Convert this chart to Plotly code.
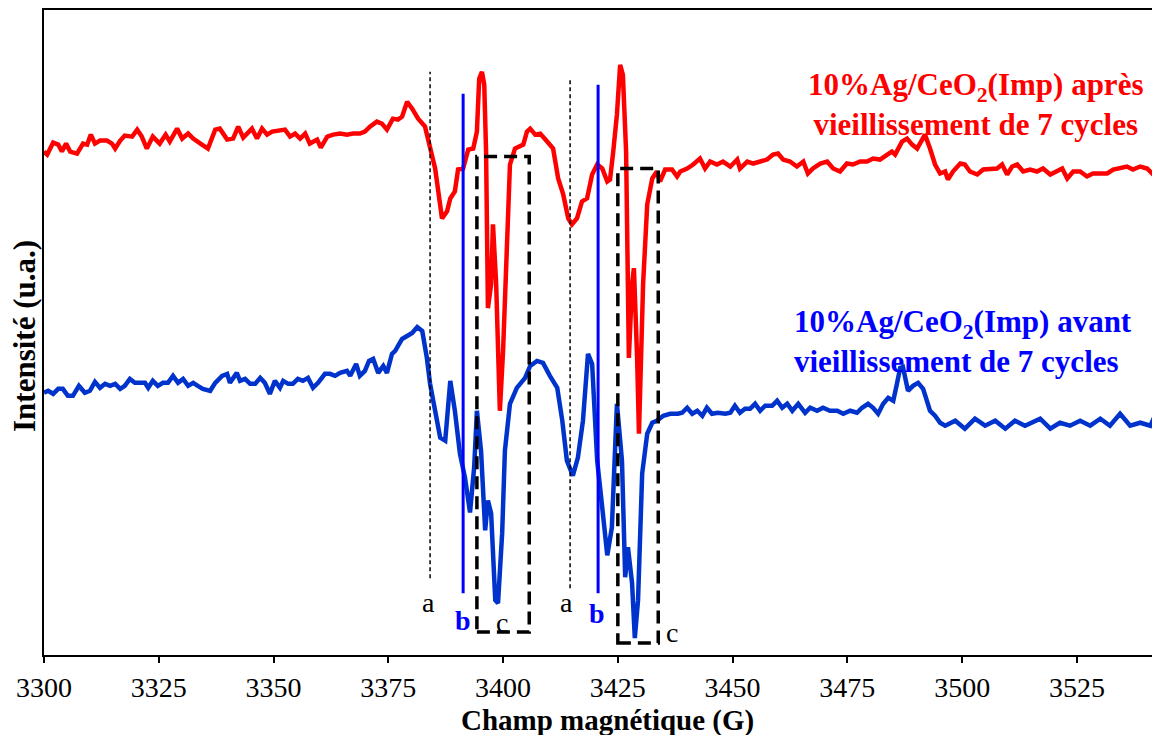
import plotly.graph_objects as go

# ---------------- data (magnetic field in G, intensity in arbitrary units) ----------------
field_apres = [3300.0, 3300.7, 3302.0, 3303.1, 3303.9, 3304.8, 3305.7, 3307.2, 3308.5, 3309.4, 3310.2, 3311.1,
               3312.2, 3313.7, 3314.8, 3315.5, 3316.6, 3317.6, 3319.2, 3320.3, 3321.3, 3322.4, 3323.7, 3325.2,
               3326.5, 3327.4, 3329.0, 3330.1, 3331.4, 3332.5, 3334.4, 3335.7, 3337.3, 3338.3, 3339.9, 3341.2,
               3342.3, 3343.4, 3345.3, 3346.4, 3347.5, 3348.6, 3349.7, 3350.8, 3352.5, 3353.6, 3354.7, 3355.8,
               3356.9, 3357.9, 3359.5, 3360.3, 3361.7, 3363.0, 3364.5, 3366.0, 3367.3, 3368.8, 3369.9, 3371.0,
               3372.5, 3373.6, 3374.7, 3376.0, 3377.1, 3378.0, 3379.1, 3380.2, 3381.5, 3383.0, 3384.1, 3385.2,
               3386.7, 3387.8, 3388.5, 3389.5, 3390.2, 3391.3, 3392.4, 3393.5, 3394.3, 3394.8, 3395.4, 3395.9,
               3396.3, 3396.7, 3397.4, 3397.8, 3398.5, 3399.3, 3400.0, 3400.9, 3401.5, 3402.6, 3404.4, 3405.2,
               3405.9, 3407.0, 3408.1, 3409.6, 3410.9, 3412.0, 3413.1, 3414.2, 3415.0, 3416.1, 3417.2, 3418.3,
               3419.4, 3420.5, 3421.6, 3422.7, 3423.3, 3424.0, 3424.8, 3425.5, 3426.1, 3426.8, 3427.4, 3428.1,
               3428.5, 3429.2, 3429.6, 3430.5, 3431.4, 3432.5, 3433.5, 3434.2, 3435.3, 3436.8, 3437.9, 3438.6,
               3440.1, 3441.4, 3442.9, 3444.0, 3445.1, 3446.6, 3447.9, 3449.5, 3451.0, 3451.6, 3453.2, 3454.5,
               3456.0, 3457.5, 3458.8, 3459.9, 3461.0, 3462.5, 3464.0, 3465.4, 3466.4, 3467.5, 3469.1, 3470.6,
               3471.9, 3473.4, 3474.9, 3476.2, 3477.8, 3479.3, 3480.6, 3482.1, 3483.7, 3484.7, 3485.4, 3486.9,
               3488.0, 3489.1, 3490.2, 3491.3, 3491.9, 3493.0, 3494.1, 3495.2, 3496.3, 3496.9, 3498.0, 3499.6,
               3500.6, 3501.7, 3503.3, 3504.6, 3506.1, 3507.6, 3508.7, 3509.8, 3510.9, 3512.0, 3513.3, 3514.8,
               3516.3, 3517.6, 3519.2, 3520.3, 3521.8, 3522.9, 3524.2, 3525.7, 3527.2, 3528.5, 3530.1, 3531.6,
               3532.9, 3534.4, 3535.9, 3537.2, 3538.8, 3540.3, 3541.6, 3543.1]
intensite_apres = [550, 547, 559, 557, 550, 558, 550, 548, 558, 557, 567, 558,
                   561, 561, 558, 553, 561, 566, 565, 572, 565, 553, 565, 558,
                   567, 560, 573, 563, 568, 563, 557, 553, 572, 573, 562, 563,
                   575, 564, 573, 563, 573, 567, 570, 571, 572, 565, 568, 563,
                   568, 558, 562, 554, 565, 567, 568, 567, 568, 568, 570, 575,
                   580, 578, 572, 583, 582, 585, 600, 593, 583, 575, 555, 533,
                   483, 490, 503, 510, 532, 533, 552, 553, 570, 623, 630, 617,
                   550, 393, 417, 477, 417, 290, 350, 483, 537, 553, 557, 570,
                   573, 567, 568, 560, 553, 523, 507, 483, 477, 483, 500, 503,
                   527, 537, 533, 520, 522, 550, 587, 637, 627, 550, 343, 417,
                   433, 343, 267, 417, 497, 523, 530, 520, 532, 532, 525, 530,
                   533, 537, 543, 533, 540, 537, 540, 535, 542, 533, 540, 538,
                   540, 542, 547, 548, 542, 540, 535, 540, 528, 533, 538, 540,
                   533, 530, 538, 537, 540, 540, 543, 542, 547, 550, 547, 560,
                   563, 557, 553, 562, 567, 553, 537, 528, 530, 522, 530, 538,
                   537, 530, 527, 532, 532, 533, 537, 527, 535, 537, 530, 532,
                   530, 533, 527, 530, 533, 523, 530, 530, 525, 528, 528, 528,
                   532, 533, 535, 532, 535, 533, 527, 532]

field_avant = [3300.0, 3300.9, 3302.0, 3303.1, 3304.1, 3305.2, 3306.3, 3307.6, 3308.9, 3310.0, 3311.1, 3312.2,
               3313.3, 3314.4, 3315.5, 3316.6, 3317.6, 3318.7, 3319.8, 3320.9, 3322.0, 3322.7, 3323.7, 3324.8,
               3325.9, 3327.0, 3328.1, 3329.2, 3330.3, 3331.4, 3332.5, 3333.5, 3334.6, 3336.2, 3337.3, 3338.8,
               3339.9, 3340.5, 3342.0, 3342.7, 3343.8, 3344.9, 3346.0, 3347.1, 3348.1, 3349.2, 3350.3, 3351.4,
               3352.1, 3353.2, 3354.2, 3355.3, 3356.4, 3357.5, 3358.6, 3359.7, 3361.2, 3362.3, 3363.4, 3364.5,
               3366.0, 3366.7, 3368.0, 3368.8, 3369.9, 3370.8, 3371.7, 3372.8, 3373.9, 3374.7, 3375.8, 3376.5,
               3378.0, 3379.1, 3380.2, 3381.3, 3382.4, 3383.4, 3384.1, 3385.2, 3386.3, 3387.4, 3388.5, 3389.5,
               3390.6, 3391.7, 3392.8, 3393.7, 3394.3, 3395.2, 3396.1, 3396.7, 3397.4, 3398.3, 3398.9, 3399.8,
               3400.4, 3401.5, 3403.0, 3404.8, 3405.9, 3407.4, 3408.7, 3410.2, 3411.8, 3412.9, 3413.9, 3415.2,
               3416.3, 3417.4, 3418.5, 3419.4, 3420.5, 3421.6, 3422.7, 3423.7, 3424.8, 3425.9, 3426.6, 3427.2,
               3428.1, 3428.7, 3429.4, 3430.3, 3431.4, 3432.5, 3433.5, 3434.9, 3436.4, 3438.1, 3439.0, 3440.1,
               3441.2, 3442.3, 3443.4, 3444.4, 3445.5, 3446.8, 3448.4, 3449.5, 3450.5, 3451.6, 3452.7, 3453.8,
               3454.9, 3456.0, 3457.1, 3458.6, 3459.7, 3460.8, 3461.9, 3463.0, 3464.3, 3465.8, 3466.9, 3468.4,
               3469.7, 3471.2, 3472.8, 3474.1, 3475.6, 3477.1, 3478.2, 3479.5, 3480.6, 3481.7, 3482.8, 3483.9,
               3485.0, 3485.8, 3486.5, 3487.1, 3488.2, 3489.3, 3490.4, 3491.5, 3493.0, 3494.1, 3495.2, 3496.3,
               3498.5, 3500.6, 3502.8, 3505.0, 3507.2, 3509.4, 3511.5, 3513.7, 3517.0, 3519.2, 3521.3, 3523.5,
               3525.7, 3527.9, 3530.1, 3532.2, 3534.4, 3536.6, 3538.8, 3541.0, 3542.5, 3543.1]
intensite_avant = [308, 310, 307, 312, 312, 305, 305, 315, 308, 310, 319, 313,
                   317, 315, 317, 312, 315, 322, 318, 318, 318, 313, 320, 315,
                   318, 318, 325, 318, 322, 315, 318, 315, 312, 310, 318, 325,
                   327, 318, 328, 320, 322, 317, 317, 323, 318, 307, 320, 313,
                   320, 317, 317, 322, 320, 323, 313, 318, 327, 327, 325, 328,
                   330, 325, 337, 325, 330, 340, 342, 328, 335, 328, 347, 350,
                   362, 365, 368, 374, 370, 343, 317, 290, 263, 260, 320, 290,
                   247, 223, 188, 233, 290, 250, 170, 200, 187, 100, 97, 167,
                   250, 297, 313, 323, 335, 340, 338, 325, 313, 280, 240, 225,
                   243, 280, 347, 337, 240, 193, 145, 173, 297, 240, 123, 153,
                   117, 62, 100, 227, 267, 278, 280, 285, 287, 287, 288, 293,
                   287, 290, 285, 293, 287, 288, 287, 288, 295, 288, 292, 292,
                   297, 290, 295, 295, 300, 293, 297, 290, 297, 288, 293, 290,
                   293, 290, 290, 287, 290, 288, 293, 297, 293, 287, 297, 303,
                   300, 317, 333, 334, 310, 315, 318, 312, 290, 285, 278, 275,
                   280, 272, 282, 275, 280, 272, 280, 275, 282, 272, 278, 275,
                   280, 275, 282, 275, 287, 275, 278, 275, 290, 280]

x_ticks = [3300, 3325, 3350, 3375, 3400, 3425, 3450, 3475, 3500, 3525]

# marker lines (field positions) and their vertical extents
a_lines = [3384.1, 3414.6]
a_top = [630, 623]
a_bottom = [122, 112]
b_lines = [3391.3, 3420.7]
b_top = [608, 617]
b_bottom = [107, 107]
c_left = [3394.3, 3425.0]
c_right = [3405.7, 3433.8]
c_top = [545, 533]
c_bottom = [68, 57]

label_a_pos = [(3383.7, 98), (3413.9, 98)]
label_b_pos = [(3391.3, 80), (3420.5, 87)]
label_c_pos = [(3399.8, 78), (3436.8, 68)]

SERIF = "Liberation Serif, Times New Roman, serif"

# page offset (the browser body margin) is compensated in the figure size and margins
fig = go.Figure()
fig.add_trace(go.Scatter(x=field_apres, y=intensite_apres, mode="lines",
                         line=dict(color="#FF0000", width=4.5), showlegend=False))
fig.add_trace(go.Scatter(x=field_avant, y=intensite_avant, mode="lines",
                         line=dict(color="#0033CC", width=4.5), showlegend=False))

shapes = []
for x, y0, y1 in zip(a_lines, a_bottom, a_top):
    shapes.append(dict(type="line", xref="x", yref="y", x0=x, x1=x, y0=y0, y1=y1,
                       line=dict(color="black", width=1.5, dash="4px,3px")))
for x, y0, y1 in zip(b_lines, b_bottom, b_top):
    shapes.append(dict(type="line", xref="x", yref="y", x0=x, x1=x, y0=y0, y1=y1,
                       line=dict(color="#0000FF", width=3)))
for x0, x1, y0, y1 in zip(c_left, c_right, c_bottom, c_top):
    shapes.append(dict(type="rect", xref="x", yref="y", x0=x0, x1=x1, y0=y0, y1=y1,
                       line=dict(color="black", width=3.5, dash="13px,7px")))

annotations = []
for (x, y) in label_a_pos:
    annotations.append(dict(x=x, y=y, xref="x", yref="y", text="a", showarrow=False,
                            font=dict(family=SERIF, size=28, color="black")))
for (x, y) in label_b_pos:
    annotations.append(dict(x=x, y=y, xref="x", yref="y", text="<b>b</b>", showarrow=False,
                            font=dict(family=SERIF, size=28, color="#0000FF")))
for (x, y) in label_c_pos:
    annotations.append(dict(x=x, y=y, xref="x", yref="y", text="c", showarrow=False,
                            font=dict(family=SERIF, size=28, color="black")))

annotations.append(dict(x=(975 - 44) / 1116, y=(655 - 103) / 647, xref="paper", yref="paper",
                        text="<b>10%Ag/CeO<sub>2</sub>(Imp) après<br>vieillissement de 7 cycles</b>",
                        showarrow=False, align="center", xanchor="center", yanchor="middle",
                        font=dict(family=SERIF, size=31, color="#FF0000")))
annotations.append(dict(x=(792 - 44) / 1116, y=(655 - 341) / 647, xref="paper", yref="paper",
                        text="<b>10%Ag/CeO<sub>2</sub>(Imp) avant<br>vieillissement de 7 cycles</b>",
                        showarrow=False, align="left", xanchor="left", yanchor="middle",
                        font=dict(family=SERIF, size=31, color="#0000FF")))
annotations.append(dict(x=(25 - 44) / 1116, y=(655 - 335) / 647, xref="paper", yref="paper",
                        text="<b>Intensité (u.a.)</b>", textangle=-90, showarrow=False,
                        xanchor="center", yanchor="middle",
                        font=dict(family=SERIF, size=31, color="black")))
annotations.append(dict(x=(607 - 44) / 1116, y=(655 - 721) / 647, xref="paper", yref="paper",
                        text="<b>Champ magnétique (G)</b>", showarrow=False,
                        xanchor="center", yanchor="middle",
                        font=dict(family=SERIF, size=29, color="black")))

fig.update_layout(
    width=1152, height=727,
    margin=dict(l=36, r=0, t=0, b=80),
    paper_bgcolor="white", plot_bgcolor="white",
    shapes=shapes, annotations=annotations,
    xaxis=dict(range=[3300, 3543.1], tickvals=x_ticks, ticktext=[str(t) for t in x_ticks],
               showgrid=False, zeroline=False, showline=True, linecolor="black", linewidth=2,
               mirror=True, ticks="outside", ticklen=6, tickwidth=1.5, tickcolor="black",
               tickfont=dict(family=SERIF, size=28, color="black")),
    yaxis=dict(range=[45, 692], showgrid=False, zeroline=False, showline=True,
               linecolor="black", linewidth=2, showticklabels=False, ticks=""),
)

fig.write_html("out.html")
